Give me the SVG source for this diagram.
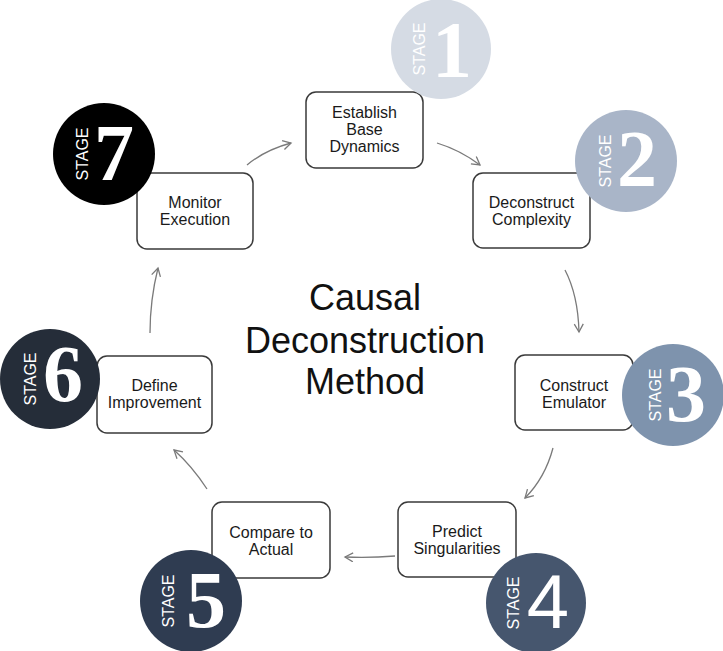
<svg xmlns="http://www.w3.org/2000/svg" width="723" height="651" viewBox="0 0 723 651">
<style>
.box{fill:#fff;stroke:#3a3a3a;stroke-width:1.5}
.bt{font-family:"Liberation Sans",Arial,sans-serif;font-size:16px;fill:#1a1a1a;text-anchor:middle}
.st{font-family:"Liberation Sans",Arial,sans-serif;font-size:16px;fill:#fff;text-anchor:middle}
.num{font-family:"Liberation Serif","Times New Roman",serif;font-size:80px;font-weight:bold;fill:#fff;text-anchor:middle}
.num4{font-family:"Liberation Sans",Arial,sans-serif;font-size:76px;fill:#fff;text-anchor:middle}
.con{fill:none;stroke:#7a7a7a;stroke-width:1.3}
.title{font-family:"Liberation Sans",Arial,sans-serif;font-size:36px;fill:#111;text-anchor:middle}
</style>
<defs>
<marker id="arr" markerUnits="userSpaceOnUse" markerWidth="12" markerHeight="12" refX="9" refY="5" orient="auto">
<path d="M1,0.5 L9,5 L1,9.5" fill="none" stroke="#7a7a7a" stroke-width="1.3"/>
</marker>
</defs>
<rect width="723" height="651" fill="#fff"/>
<g id="connectors">
<path class="con" marker-end="url(#arr)" d="M247,165 Q265,150 291,143"/>
<path class="con" marker-end="url(#arr)" d="M437,143 Q460,150 480,165"/>
<path class="con" marker-end="url(#arr)" d="M565,270 Q578,295 579,332"/>
<path class="con" marker-end="url(#arr)" d="M553,448 Q545,478 525,498"/>
<path class="con" marker-end="url(#arr)" d="M395,556 Q370,558 345,557"/>
<path class="con" marker-end="url(#arr)" d="M207,489 Q192,466 174,450"/>
<path class="con" marker-end="url(#arr)" d="M150,333 Q150,300 158,268"/>
</g>
<g id="title">
<text class="title" x="365" y="310">Causal</text>
<text class="title" x="365" y="353">Deconstruction</text>
<text class="title" x="365" y="394">Method</text>
</g>
<g id="stage1">
<rect class="box" x="306" y="92" width="117" height="76" rx="10"/>
<text class="bt" x="364.5" y="118">Establish</text>
<text class="bt" x="364.5" y="135">Base</text>
<text class="bt" x="364.5" y="152">Dynamics</text>
<circle cx="441" cy="49" r="50" fill="#d5dbe4"/>
<text class="st" transform="translate(425,49) rotate(-90)">STAGE</text>
<text class="num" x="452" y="77">1</text>
</g>
<g id="stage2">
<rect class="box" x="473" y="173" width="117" height="75" rx="10"/>
<text class="bt" x="531.5" y="207.5">Deconstruct</text>
<text class="bt" x="531.5" y="224.5">Complexity</text>
<circle cx="626" cy="161" r="51" fill="#a9b5c8"/>
<text class="st" transform="translate(611,161) rotate(-90)">STAGE</text>
<text class="num" x="637" y="186">2</text>
</g>
<g id="stage3">
<rect class="box" x="515" y="355" width="118" height="75" rx="10"/>
<text class="bt" x="574" y="390.5">Construct</text>
<text class="bt" x="574" y="407.5">Emulator</text>
<circle cx="673" cy="395" r="51" fill="#7e93ad"/>
<text class="st" transform="translate(661,395) rotate(-90)">STAGE</text>
<text class="num" x="686" y="421">3</text>
</g>
<g id="stage4">
<rect class="box" x="398" y="502" width="118" height="75" rx="10"/>
<text class="bt" x="457" y="536.5">Predict</text>
<text class="bt" x="457" y="553.5">Singularities</text>
<circle cx="536" cy="603" r="50" fill="#46566e"/>
<text class="st" transform="translate(519,603) rotate(-90)">STAGE</text>
<text class="num4" x="548" y="628">4</text>
</g>
<g id="stage5">
<rect class="box" x="212" y="502" width="118" height="76" rx="10"/>
<text class="bt" x="271" y="537.5">Compare to</text>
<text class="bt" x="271" y="554.5">Actual</text>
<circle cx="191" cy="601" r="51" fill="#2f3c51"/>
<text class="st" transform="translate(174,601) rotate(-90)">STAGE</text>
<text class="num" x="206" y="627">5</text>
</g>
<g id="stage6">
<rect class="box" x="97" y="356" width="115" height="77" rx="10"/>
<text class="bt" x="154.5" y="390.5">Define</text>
<text class="bt" x="154.5" y="407.5">Improvement</text>
<circle cx="50" cy="379" r="50" fill="#252d39"/>
<text class="st" transform="translate(36,379) rotate(-90)">STAGE</text>
<text class="num" x="63" y="401">6</text>
</g>
<g id="stage7">
<rect class="box" x="137" y="173" width="116" height="76" rx="10"/>
<text class="bt" x="195" y="207.5">Monitor</text>
<text class="bt" x="195" y="224.5">Execution</text>
<circle cx="104" cy="154" r="51" fill="#000"/>
<text class="st" transform="translate(88,154) rotate(-90)">STAGE</text>
<text class="num" x="114" y="180">7</text>
</g>
</svg>
